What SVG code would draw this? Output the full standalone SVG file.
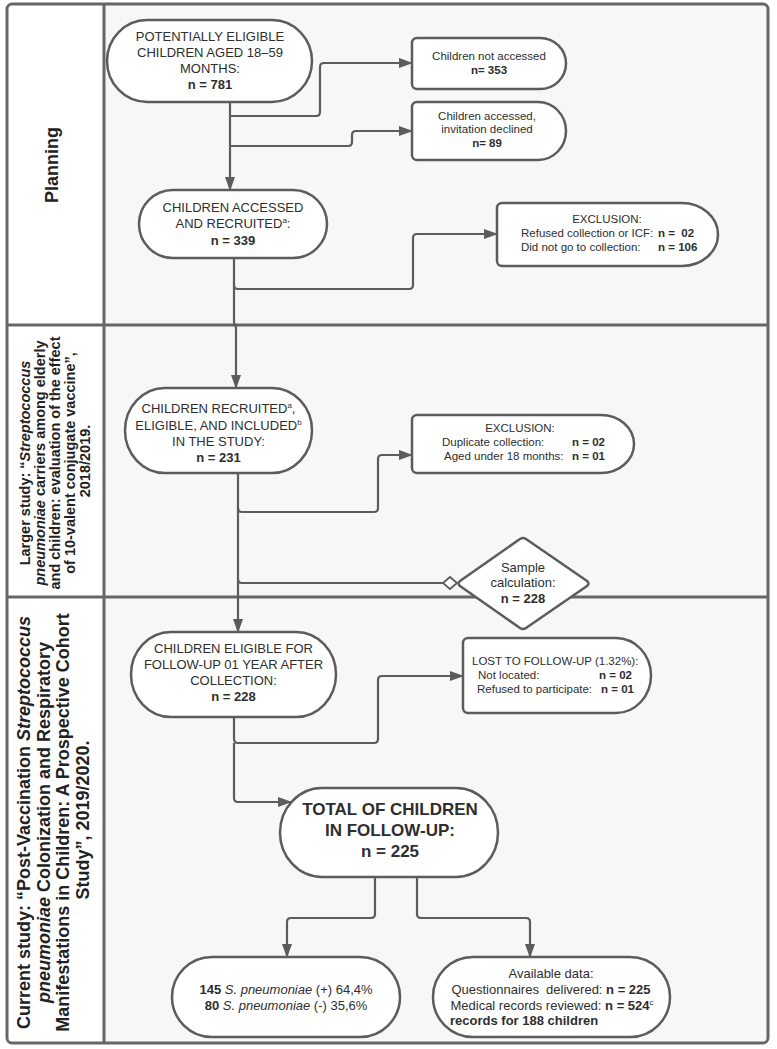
<svg xmlns="http://www.w3.org/2000/svg" width="777" height="1049" viewBox="0 0 777 1049">
<style>
text{font-family:"Liberation Sans",Arial,sans-serif;fill:#2e2e2e}
.node{fill:#fff;stroke:#5c5c5c;stroke-width:2.5}
.conn{fill:none;stroke:#5c5c5c;stroke-width:2.2}
.frame{fill:none;stroke:#666;stroke-width:3}
.m{font-size:13px;text-anchor:middle}
.s{font-size:11.5px}
.c{text-anchor:middle}
.b{font-weight:bold}
.i{font-style:italic}
.pre{white-space:pre}
.lane{font-weight:bold;text-anchor:middle;fill:#222}
</style>
<defs>
<marker id="arr" viewBox="0 0 14 10" markerWidth="14" markerHeight="10" refX="13" refY="5" orient="auto" markerUnits="userSpaceOnUse">
<path d="M0,0 L14,5 L0,10 Z" fill="#5c5c5c"/>
</marker>
</defs>
<rect x="7" y="4" width="761" height="1039" rx="5" fill="#f7f7f7"/>
<rect x="8" y="5" width="96" height="1037" fill="#fff"/>
<g id="frame">
<rect class="frame" x="7" y="4" width="761" height="1039" rx="5"/>
<line class="frame" x1="104" y1="4" x2="104" y2="1043"/>
<line class="frame" x1="7" y1="325" x2="768" y2="325"/>
<line class="frame" x1="7" y1="597" x2="768" y2="597"/>
</g>
<g id="lane-planning">
<text class="lane" font-size="18" transform="translate(52,165) rotate(-90)" y="6">Planning</text>
</g>
<g id="lane-larger">
<text class="lane" font-size="14.5" transform="translate(55,461) rotate(-90)">
<tspan x="0" y="-25">Larger study: “<tspan class="i">Streptococcus</tspan></tspan>
<tspan x="0" y="-10"><tspan class="i">pneumoniae</tspan> carriers among elderly</tspan>
<tspan x="0" y="5">and children: evaluation of the effect</tspan>
<tspan x="0" y="20">of 10-valent conjugate vaccine”,</tspan>
<tspan x="0" y="35">2018/2019.</tspan>
</text>
</g>
<g id="lane-current">
<text class="lane" font-size="18" transform="translate(55,820) rotate(-90)">
<tspan x="0" y="-25.5">Current study: “Post-Vaccination <tspan class="i">Streptococcus</tspan></tspan>
<tspan x="0" y="-5.5"><tspan class="i">pneumoniae</tspan> Colonization and Respiratory</tspan>
<tspan x="0" y="14">Manifestations in Children: A Prospective Cohort</tspan>
<tspan x="0" y="33.5">Study”, 2019/2020.</tspan>
</text>
</g>
<g id="connectors">
<path class="conn" d="M230,102 V190" marker-end="url(#arr)"/>
<path class="conn" d="M230,116 H316 Q320,116 320,112 V67 Q320,63 324,63 H412" marker-end="url(#arr)"/>
<path class="conn" d="M230,146 H348 Q352,146 352,142 V135 Q352,131 356,131 H412" marker-end="url(#arr)"/>
<path class="conn" d="M234,258 V322 Q234,325 236,327 V388" marker-end="url(#arr)"/>
<path class="conn" d="M234,285 Q234,289 238,289 H409 Q413,289 413,285 V238 Q413,234 417,234 H497" marker-end="url(#arr)"/>
<path class="conn" d="M238,473 V632" marker-end="url(#arr)"/>
<path class="conn" d="M238,508 Q238,512 242,512 H374 Q378,512 378,508 V459 Q378,455 382,455 H412" marker-end="url(#arr)"/>
<path class="conn" d="M238,579 Q238,583 242,583 H443"/>
<polygon points="443,583 450,577 457,583 450,589" fill="#fff" stroke="#5c5c5c" stroke-width="1.8"/>
<path class="conn" d="M234,717 V739 Q234,743 238,743 H374 Q378,743 378,739 V680 Q378,676 382,676 H463" marker-end="url(#arr)"/>
<path class="conn" d="M234,743 V798 Q234,802 238,802 H291" marker-end="url(#arr)"/>
<path class="conn" d="M375,877 V914 Q375,918 371,918 H291 Q287,918 287,922 V957" marker-end="url(#arr)"/>
<path class="conn" d="M417,877 V914 Q417,918 421,918 H526 Q530,918 530,922 V957" marker-end="url(#arr)"/>
</g>
<g id="n-potential">
<rect class="node" x="107" y="20" width="205" height="82" rx="40" ry="41"/>
<text class="m" x="210" y="41">POTENTIALLY ELIGIBLE</text>
<text class="m" x="210" y="57">CHILDREN AGED 18–59</text>
<text class="m" x="210" y="73">MONTHS:</text>
<text class="m b" x="210" y="89">n = 781</text>
</g>
<g id="n-not-accessed">
<path class="node" d="M417,38 H540 A26,25.5 0 0 1 566,63.5 A26,25.5 0 0 1 540,89 H417 A5,5 0 0 1 412,84 V43 A5,5 0 0 1 417,38 Z"/>
<text class="s c" x="489" y="60">Children not accessed</text>
<text class="s c b" x="489" y="74">n= 353</text>
</g>
<g id="n-declined">
<path class="node" d="M417,102 H538 A28,29 0 0 1 566,131 A28,29 0 0 1 538,160 H417 A5,5 0 0 1 412,155 V107 A5,5 0 0 1 417,102 Z"/>
<text class="s c" x="487" y="120">Children accessed,</text>
<text class="s c" x="487" y="133">invitation declined</text>
<text class="s c b" x="487" y="147">n= 89</text>
</g>
<g id="n-recruited">
<rect class="node" x="139" y="190" width="188" height="68" rx="34" ry="34"/>
<text class="m" x="233" y="211.5">CHILDREN ACCESSED</text>
<text class="m" x="233" y="227.5">AND RECRUITED<tspan font-size="8" dy="-5">a</tspan><tspan dy="5">:</tspan></text>
<text class="m b" x="233" y="244.5">n = 339</text>
</g>
<g id="n-exclusion1">
<path class="node" d="M502,203 H682 A36,31.5 0 0 1 718,234.5 A36,31.5 0 0 1 682,266 H502 A5,5 0 0 1 497,261 V208 A5,5 0 0 1 502,203 Z"/>
<text class="s c" x="607" y="223">EXCLUSION:</text>
<text class="s" x="521" y="237">Refused collection or ICF:</text>
<text class="s b pre" x="658" y="237" xml:space="preserve">n =  02</text>
<text class="s" x="521" y="251">Did not go to collection:</text>
<text class="s b" x="658" y="251">n = 106</text>
</g>
<g id="n-included">
<rect class="node" x="125" y="388" width="187" height="85" rx="40" ry="42.5"/>
<text class="m" x="218.5" y="412.5">CHILDREN RECRUITED<tspan font-size="8" dy="-5">a</tspan><tspan dy="5">,</tspan></text>
<text class="m" x="218.5" y="429.5">ELIGIBLE, AND INCLUDED<tspan font-size="8" dy="-5">b</tspan></text>
<text class="m" x="218.5" y="445.5">IN THE STUDY:</text>
<text class="m b" x="218.5" y="461.5">n = 231</text>
</g>
<g id="n-exclusion2">
<path class="node" d="M417,415 H601 A33,29 0 0 1 634,444 A33,29 0 0 1 601,473 H417 A5,5 0 0 1 412,468 V420 A5,5 0 0 1 417,415 Z"/>
<text class="s c" x="520" y="432">EXCLUSION:</text>
<text class="s" x="442" y="446">Duplicate collection:</text>
<text class="s b" x="572" y="446">n = 02</text>
<text class="s" x="444" y="460">Aged under 18 months:</text>
<text class="s b" x="572" y="460">n = 01</text>
</g>
<g id="n-sample">
<path class="node" d="M520,539 Q523,537 526,539 L587,581 Q590,583.5 587,586 L526,628 Q523,630 520,628 L460,586 Q457,583.5 460,581 Z"/>
<text class="m" x="523" y="571.5">Sample</text>
<text class="m" x="523" y="586.5">calculation:</text>
<text class="m b" x="523" y="602.5">n = 228</text>
</g>
<g id="n-followup">
<rect class="node" x="131" y="632" width="205" height="85" rx="40" ry="42.5"/>
<text class="m" x="233.5" y="652.5">CHILDREN ELIGIBLE FOR</text>
<text class="m" x="233.5" y="668.5">FOLLOW-UP 01 YEAR AFTER</text>
<text class="m" x="233.5" y="684.5">COLLECTION:</text>
<text class="m b" x="233.5" y="700.5">n = 228</text>
</g>
<g id="n-lost">
<path class="node" d="M468,638 H616 A35,37.5 0 0 1 651,675.5 A35,37.5 0 0 1 616,713 H468 A5,5 0 0 1 463,708 V643 A5,5 0 0 1 468,638 Z"/>
<text class="s" x="472" y="665">LOST TO FOLLOW-UP (1.32%):</text>
<text class="s" x="478" y="679">Not located:</text>
<text class="s b" x="599" y="679">n = 02</text>
<text class="s" x="477" y="693">Refused to participate:</text>
<text class="s b" x="601" y="693">n = 01</text>
</g>
<g id="n-total">
<rect class="node" x="280" y="788" width="218" height="89" rx="42" ry="44.5"/>
<text class="b c" font-size="17" x="390" y="815">TOTAL OF CHILDREN</text>
<text class="b c" font-size="17" x="390" y="836">IN FOLLOW-UP:</text>
<text class="b c" font-size="17" x="390" y="857">n = 225</text>
</g>
<g id="n-spn">
<rect class="node" x="172" y="957" width="228" height="80" rx="40" ry="40"/>
<text class="m" x="286" y="993.5"><tspan class="b">145</tspan> <tspan class="i">S. pneumoniae</tspan> (+) 64,4%</text>
<text class="m" x="286" y="1009.5"><tspan class="b">80</tspan> <tspan class="i">S. pneumoniae</tspan> (-) 35,6%</text>
</g>
<g id="n-available">
<rect class="node" x="433" y="957" width="237" height="80" rx="40" ry="40"/>
<text class="m" x="551" y="977.5">Available data:</text>
<text class="m pre" x="551" y="993.5" xml:space="preserve">Questionnaires  delivered: <tspan class="b">n = 225</tspan></text>
<text class="m" x="552" y="1009.5">Medical records reviewed: <tspan class="b">n = 524</tspan><tspan font-size="8" dy="-5">c</tspan></text>
<text class="b" font-size="13" x="450" y="1024.5">records for 188 children</text>
</g>
</svg>
